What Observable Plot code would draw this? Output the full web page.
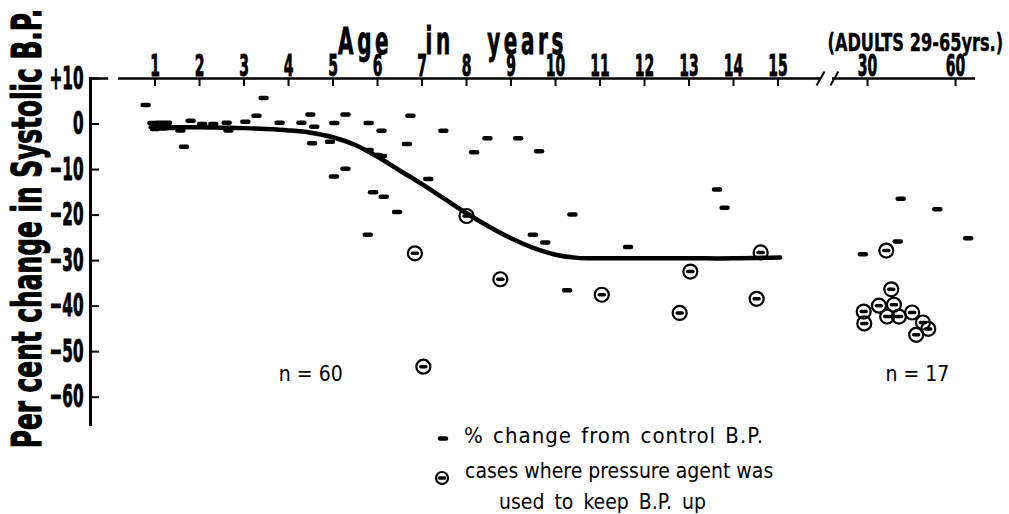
<!DOCTYPE html>
<html><head><meta charset="utf-8">
<script src="https://cdn.jsdelivr.net/npm/d3@7"></script>
<script src="https://cdn.jsdelivr.net/npm/@observablehq/plot@0.6"></script>
<style>
body{margin:0;background:#fff;}
#wrap{position:relative;width:1009px;height:514px;overflow:hidden;background:#fff;}
#wrap svg{position:absolute;left:0;top:0;}
.leg{position:absolute;font-family:'DejaVu Sans Condensed','Liberation Sans Narrow','Liberation Sans',sans-serif;color:#000;white-space:nowrap;line-height:1;}
</style></head><body><div id="wrap"></div>
<script>
// ---- data ----
// % change from control B.P. (dash markers): children then adults
const dashAge = [0.79,0.94,1.1,1.27,1.0,1.18,1.35,1.57,1.65,1.80,2.06,2.31,2.61,2.65,3.03,3.28,3.44,3.80,4.29,4.49,4.58,4.53,4.93,5.03,5.02,5.28,5.28,5.80,6.09,5.80,6.0,6.10,5.90,6.14,6.44,5.78,6.74,6.66,7.14,7.48,8.17,8.47,9.16,9.63,9.49,9.77,10.38,10.26,11.63,13.63,13.80,
  28.4,40.3,64.3,41.3,53.8];
const dashPct = [4.2,0.2,0.3,0.3,-1.1,-1.0,-0.9,-1.4,-5.0,0.7,0,0,0.3,-1.4,0.5,1.8,5.7,0.3,0.3,2.1,-0.6,-4.2,-3.9,0.2,-11.5,2.1,-9.8,0.2,-1.5,-5.7,-6.8,-7.0,-15.0,-16.0,-19.3,-24.3,1.8,-4.4,-12.1,-1.5,-6.2,-3.1,-3.1,-6.0,-24.3,-26.0,-19.9,-36.5,-27.0,-14.4,-18.4,
  -28.6,-25.8,-25.1,-16.4,-18.7];
// cases where pressure agent was used (circle markers)
const agentAge = [6.84,7.03,8.0,8.76,11.04,12.79,13.03,14.52,14.61,
  36.4,38.1,28.7,28.9,33.9,39.0,36.7,40.7,45.2,48.9,46.6,50.7];
const agentPct = [-28.4,-53.3,-20.2,-34.1,-37.5,-41.5,-32.4,-38.4,-28.2,
  -27.8,-36.3,-41.2,-43.8,-39.9,-39.7,-42.3,-42.3,-41.4,-43.6,-46.3,-45.0];
// trend curve (children)
const curveAge = [0.9,1.5,2,2.5,3,3.5,4,4.5,5,5.5,6,6.5,7,7.5,8,8.5,9,9.5,10,10.5,11,12,13,14,15.05];
const curvePct = [-0.7,-0.7,-0.7,-0.8,-0.9,-1.1,-1.4,-1.9,-2.9,-4.6,-7.2,-10.2,-13.2,-16.4,-19.6,-22.5,-25.1,-27.2,-28.7,-29.4,-29.5,-29.5,-29.5,-29.5,-29.3];
// ticks
const xTicks = [1,2,3,4,5,6,7,8,9,10,11,12,13,14,15,30,60];
const yTicks = [10,0,-10,-20,-30,-40,-50,-60];
// sample sizes
const noteAge = [4.5, 47];
const notePct = [-55, -55];
const noteText = ["n = 60", "n = 17"];
// texts
const titleText = "Age in years";
const adultsText = "(ADULTS 29-65yrs.)";
const yLabelText = "Per cent change in Systolic B.P.";
const legendText = ["% change from control B.P.", "cases where pressure agent was", "used to keep B.P. up"];

// ---- scale layout: broken axis (children 0-16 yrs | adults) ----
const xDomain = [-0.45, 15.955, 18.07, 66.8];
const xRange  = [90, 820, 832, 975];
const axisSegments = [{x1: 0.18, x2: 15.955}, {x1: 18.07, x2: 66.8}, {x1: -0.45, x2: -0.04}];
const breakAt = [15.97, 18.7];

const FONT = "'DejaVu Sans Condensed','Liberation Sans Narrow','Liberation Sans',sans-serif";

const dashes = dashAge.map((a, i) => ({age: a, pct: dashPct[i]}));
const agents = agentAge.map((a, i) => ({age: a, pct: agentPct[i]}));
const curve = curveAge.map((a, i) => ({age: a, pct: curvePct[i]}));
const notes = noteAge.map((a, i) => ({age: a, pct: notePct[i], label: noteText[i]}));

const dashSym = {draw(ctx) { ctx.moveTo(-3, 0); ctx.lineTo(3, 0); }};
const innerSym = {draw(ctx) { ctx.moveTo(-2.5, 0); ctx.lineTo(2.5, 0); }};
const slashSym = {draw(ctx) { ctx.moveTo(-4, 7); ctx.lineTo(4, -7); }};
const fmt = d => d > 0 ? `+${d}` : d < 0 ? `\u2212${-d}` : "0";

const plot = Plot.plot({
  width: 1009, height: 426,
  marginLeft: 90, marginRight: 34, marginTop: 78, marginBottom: 2,
  style: {background: "white", color: "black", overflow: "visible"},
  x: {type: "linear", domain: xDomain, range: xRange},
  y: {domain: [-66, 10]},
  marks: [
    Plot.frame({anchor: "left", strokeWidth: 3}),
    Plot.ruleY(axisSegments, {y: () => 10, x1: "x1", x2: "x2", strokeWidth: 2.5}),
    Plot.dot(breakAt, {x: d => d, y: () => 10, symbol: slashSym, fill: "none", stroke: "black", strokeWidth: 2}),
    Plot.axisX({ticks: xTicks, anchor: "top", tickSize: 7, dy: 7, tickFormat: () => "", label: null, strokeWidth: 2}),
    Plot.axisX({ticks: xTicks, anchor: "top", tickSize: 0, tickPadding: 3, label: null, fontSize: 31, fontWeight: "bold", fontFamily: FONT}),
    Plot.axisY({ticks: yTicks, tickSize: 9, dx: 9, tickFormat: () => "", label: null, strokeWidth: 2}),
    Plot.axisY({ticks: yTicks, tickSize: 0, tickPadding: 7, tickFormat: fmt, label: null, fontSize: 32, fontWeight: "bold", fontFamily: FONT}),
    Plot.line(curve, {x: "age", y: "pct", curve: "catmull-rom", stroke: "black", strokeWidth: 4.5}),
    Plot.dot(dashes, {x: "age", y: "pct", symbol: dashSym, fill: "none", stroke: "black", strokeWidth: 4.5, strokeLinecap: "round"}),
    Plot.dot(agents, {x: "age", y: "pct", r: 7, fill: "none", stroke: "black", strokeWidth: 2.2}),
    Plot.dot(agents, {x: "age", y: "pct", symbol: innerSym, fill: "none", stroke: "black", strokeWidth: 3.5, strokeLinecap: "round"}),
    Plot.text(notes, {x: "age", y: "pct", text: "label", fontSize: 21, fontFamily: FONT}),
    Plot.text([titleText], {frameAnchor: "top-left", textAnchor: "middle", dx: 452 - 90, dy: 27 - 78, fontSize: 37, fontWeight: "bold", fontFamily: FONT}),
    Plot.text([adultsText], {frameAnchor: "top-left", textAnchor: "start", lineAnchor: "bottom", dx: 827 - 90, dy: 50 - 78, fontSize: 25, fontWeight: "bold", fontFamily: FONT}),
    Plot.text([yLabelText], {frameAnchor: "top-left", textAnchor: "middle", dx: 12 - 90, dy: 228 - 78, rotate: -90, fontSize: 40, fontWeight: "bold", fontFamily: FONT})
  ]
});

document.getElementById("wrap").appendChild(plot);

// condensed, heavy look of the original lettering
const svg = d3.select(plot);
const squeeze = (sel, s, sw) => sel.each(function() {
  this.setAttribute("transform", (this.getAttribute("transform") || "") + ` scale(${s},1)`);
  this.setAttribute("stroke", "black");
  this.setAttribute("stroke-width", sw);
});
const byText = t => svg.selectAll("text").filter(function() { return this.textContent === t; });
squeeze(svg.selectAll('g[aria-label="x-axis tick label"] text'), 0.5, 0.9);
squeeze(svg.selectAll('g[aria-label="y-axis tick label"] text'), 0.53, 0.9);
squeeze(byText(yLabelText), 0.69, 1);
squeeze(byText(titleText), 0.6, 0.8);
squeeze(byText(adultsText), 0.72, 0.4);
byText(titleText).attr("letter-spacing", 6).attr("word-spacing", 38);

// legend (below the plot area)
const wrap = d3.select("#wrap");
const legLines = [
  {text: legendText[0], left: 464, top: 425, size: 22, ls: 1, ws: 2},
  {text: legendText[1], left: 465, top: 461, size: 21, ls: 0, ws: 0},
  {text: legendText[2], left: 499, top: 492, size: 21, ls: 0, ws: 4}
];
legLines.forEach(l => {
  wrap.append("div").attr("class", "leg")
    .style("left", l.left + "px").style("top", l.top + "px")
    .style("font-size", l.size + "px").style("letter-spacing", l.ls + "px").style("word-spacing", l.ws + "px")
    .text(l.text);
});
const mk = wrap.append("svg").attr("width", 30).attr("height", 60)
  .style("position", "absolute").style("left", "428px").style("top", "425px");
mk.append("line").attr("x1", 12).attr("x2", 18).attr("y1", 13.5).attr("y2", 13.5)
  .attr("stroke", "black").attr("stroke-width", 4.5).attr("stroke-linecap", "round");
mk.append("circle").attr("cx", 14).attr("cy", 53).attr("r", 6)
  .attr("fill", "none").attr("stroke", "black").attr("stroke-width", 2.2);
mk.append("line").attr("x1", 11.5).attr("x2", 16.5).attr("y1", 53).attr("y2", 53)
  .attr("stroke", "black").attr("stroke-width", 3.5).attr("stroke-linecap", "round");
</script></body></html>
